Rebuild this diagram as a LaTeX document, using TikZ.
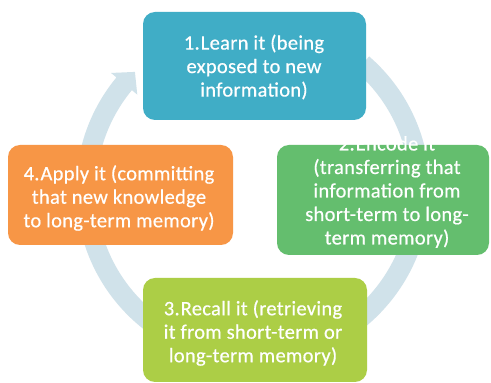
\documentclass[tikz,border=0pt]{standalone}
\usepackage{fontspec}
\setmainfont{Carlito}
\newfontfamily\boxfont[FakeBold=0.5,LetterSpace=1.5]{Carlito}
\definecolor{ringblue}{RGB}{208,226,234}
\definecolor{stepblue}{RGB}{64,173,198}
\definecolor{stepgreen}{RGB}{100,190,110}
\definecolor{steporange}{RGB}{247,150,70}
\definecolor{steplime}{RGB}{172,206,70}
\begin{document}
\begin{tikzpicture}[x=1pt,y=1pt,
  stepbox/.style={rounded corners=12pt, inner sep=0pt, draw=none},
  steptext/.style={text=white, align=center, inner sep=0pt,
    font=\boxfont\fontsize{20.5}{23.5}\selectfont}]
\useasboundingbox (0,0) rectangle (491,383);
\fill[white] (0,0) rectangle (491,383);

% cycle ring with its arrowhead
\coordinate (ringc) at (253,193);
\fill[ringblue, shift={(ringc)}]
  (49:177pt) arc[start angle=49, end angle=-219.5, radius=177pt]
  -- (-219.5:184pt) -- (-225:167pt) -- (-219.5:150pt)
  -- (-219.5:157pt) arc[start angle=-219.5, end angle=49, radius=157pt]
  -- cycle;

% step boxes
\node[stepbox, fill=stepblue, minimum width=223pt, minimum height=108pt] (learn) at (254.5,317) {};
\node[stepbox, fill=stepgreen, minimum width=212pt, minimum height=110pt] (encode) at (383,183) {};
\node[stepbox, fill=steplime, minimum width=224pt, minimum height=104pt] (recall) at (255,53) {};
\node[stepbox, fill=steporange, minimum width=225pt, minimum height=100pt] (apply) at (120.5,188) {};

% step labels
\node[steptext] (learntext) at (254,316) {1.\hspace{1pt}Learn it (being\\exposed to new\\information)};
\node[steptext] (encodetext) at (387,191) {2.\hspace{1pt}Encode it\\(transferring that\\information from\\short-term to long-\\term memory)};
\node[steptext] (recalltext) at (253,50) {3.\hspace{1pt}Recall it (retrieving\\it from short-term or\\long-term memory)};
\node[steptext] (applytext) at (119,185) {4.\hspace{1pt}Apply it (committing\\that new knowledge\\to long-term memory)};
\end{tikzpicture}
\end{document}
